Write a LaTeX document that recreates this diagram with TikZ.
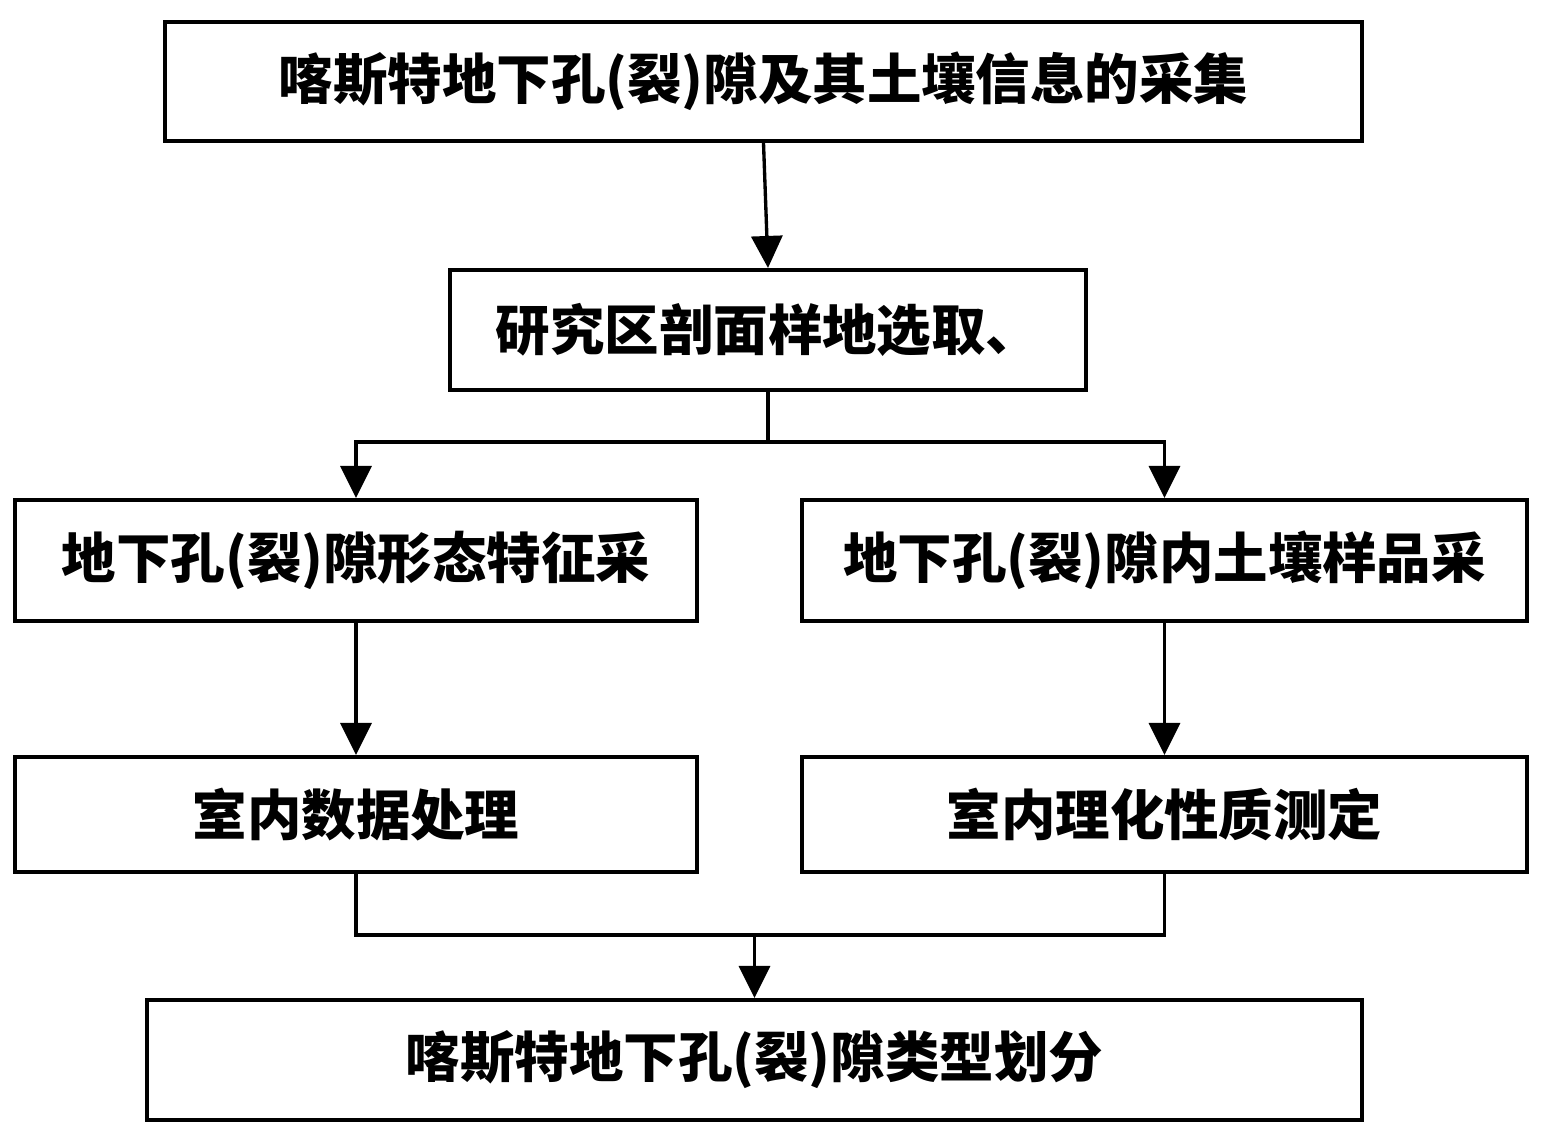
\documentclass[tikz,border=0pt]{standalone}
\usepackage{fontspec}
\newfontfamily\cjk{Noto Sans CJK SC}
\usetikzlibrary{arrows.meta}
\usetikzlibrary{calc}

\begin{document}
\begin{tikzpicture}[>={Triangle[length=0.64cm,width=0.62cm]},line width=1.8pt,
    stepbox/.style={draw,line width=2.3pt,inner sep=0pt,font=\cjk\bfseries\fontsize{31}{36}\selectfont},
    linkline/.style={line width=1.9pt}]
        \useasboundingbox (0,0) rectangle (30.9,22.84);
        \node[stepbox,minimum width=23.94cm,minimum height=2.38cm] (collect) at(15.27,21.21){喀斯特地下孔(裂)隙及其土壤信息的采集};
        \node[stepbox,minimum width=12.72cm,minimum height=2.4cm] (select) at(15.36,16.24){研究区剖面样地选取、};
        \node[stepbox,minimum width=13.64cm,minimum height=2.42cm] (shape) at(7.12,11.63){地下孔(裂)隙形态特征采};
        \node[stepbox,minimum width=14.5cm,minimum height=2.42cm] (soil) at(23.29,11.63){地下孔(裂)隙内土壤样品采};
        \node[stepbox,minimum width=13.64cm,minimum height=2.3cm] (data) at(7.12,6.55){室内数据处理};
        \node[stepbox,minimum width=14.5cm,minimum height=2.3cm] (lab) at(23.29,6.55){室内理化性质测定};
        \node[stepbox,minimum width=24.3cm,minimum height=2.4cm] (type) at(15.09,1.64){喀斯特地下孔(裂)隙类型划分};
        \coordinate (split) at ($(select.south)+(0,-1)$);
        \coordinate (join) at ($(type.north)+(0,1.26)$);
        \draw[linkline,->](collect.south)--(select.north);
        \draw[linkline](select.south)--(split);
        \draw[linkline,->](split)-|(shape.north);
        \draw[linkline,->](split)-|(soil.north);
        \draw[linkline,->](shape.south)--(data.north);
        \draw[linkline,->](soil.south)--(lab.north);
        \draw[linkline](data.south)|-(join)-|(lab.south);
        \draw[linkline,->](join)--(type.north);
    \end{tikzpicture}
\end{document}
